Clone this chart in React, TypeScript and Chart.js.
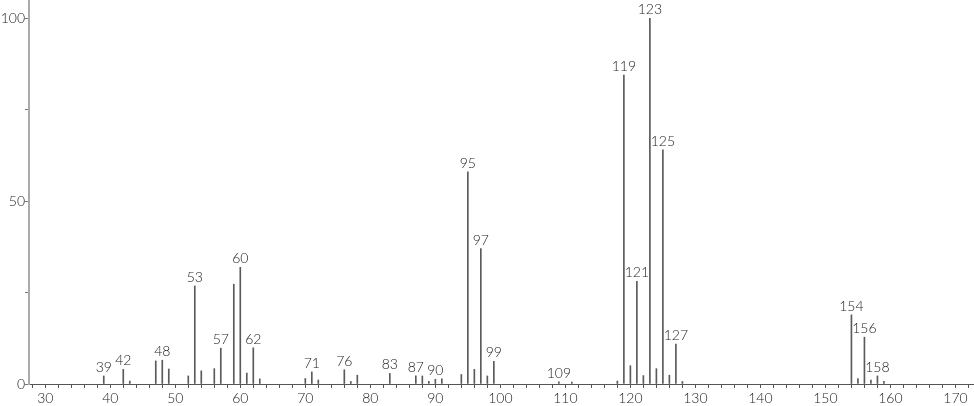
import React, { useEffect, useRef } from "react";
import { Chart, registerables } from "chart.js";

Chart.register(...registerables);

const masses = [39, 42, 43, 47, 48, 49, 52, 53, 54, 56, 57, 59, 60, 61, 62, 63, 70, 71, 72, 76, 77, 78, 83, 87, 88, 89, 90, 91, 94, 95, 96, 97, 98, 99, 109, 111, 118, 119, 120, 121, 122, 123, 124, 125, 126, 127, 128, 154, 155, 156, 157, 158, 159];
const intensities = [2.2, 4.0, 0.8, 6.3, 6.5, 4.1, 2.2, 26.8, 3.6, 4.2, 9.8, 27.3, 31.9, 3.0, 9.9, 1.4, 1.5, 3.3, 1.1, 3.9, 0.7, 2.4, 2.9, 2.2, 2.2, 0.7, 1.3, 1.4, 2.6, 58.0, 4.0, 37.0, 2.2, 6.2, 0.6, 0.5, 0.8, 84.5, 5.0, 28.1, 2.3, 100, 4.2, 64.0, 2.4, 10.9, 0.7, 18.9, 1.5, 12.8, 1.1, 2.2, 0.7];
const labeledPeaks = [39, 42, 48, 53, 57, 60, 62, 71, 76, 83, 87, 90, 95, 97, 99, 109, 119, 121, 123, 125, 127, 154, 156, 158];
const xLabelTicks = [30, 40, 50, 60, 70, 80, 90, 100, 110, 120, 130, 140, 150, 160, 170];
const yLabelTicks = [0, 50, 100];

const FONT = "Lato, 'DejaVu Sans', sans-serif";

const peakLabelPlugin = {
  id: "peakLabels",
  afterDatasetsDraw(chart: any) {
    const meta = chart.getDatasetMeta(0);
    const ctx = chart.ctx;
    ctx.save();
    ctx.font = `300 14px ${FONT}`;
    ctx.fillStyle = "#222";
    ctx.textAlign = "center";
    ctx.textBaseline = "alphabetic";
    masses.forEach((m, i) => {
      if (!labeledPeaks.includes(m)) return;
      const el = meta.data[i];
      if (!el) return;
      ctx.fillText(String(m), el.x, el.y - 4);
    });
    ctx.restore();
  },
};

export default function App() {
  const ref = useRef<HTMLCanvasElement>(null);
  useEffect(() => {
    document.body.style.margin = "0";
    const data = masses.map((m, i) => ({ x: m, y: intensities[i] }));
    const chart = new Chart(ref.current!, {
      type: "bar",
      data: {
        datasets: [
          {
            data,
            backgroundColor: "#5a5a5a",
            borderWidth: 0,
            barThickness: 1,
            grouped: false,
          } as any,
        ],
      },
      options: {
        animation: false,
        responsive: true,
        maintainAspectRatio: false,
        layout: { padding: { left: 0, right: 1, top: 0, bottom: 0 } },
        plugins: { legend: { display: false }, tooltip: { enabled: false } },
        scales: {
          x: {
            type: "linear",
            min: 27.5,
            max: 172.7,
            offset: false,
            afterFit(scale: any) {
              scale.height = 22;
              scale.paddingLeft = 0;
              scale.paddingRight = 0;
            },
            border: { display: true, color: "#555", width: 1 },
            grid: {
              display: true,
              drawOnChartArea: false,
              drawTicks: true,
              tickLength: 4,
              tickColor: "#555",
              offset: false,
            },
            ticks: {
              stepSize: 2,
              includeBounds: false,
              autoSkip: false,
              maxRotation: 0,
              minRotation: 0,
              padding: 2,
              maxTicksLimit: 200,
              color: "#222",
              font: { family: FONT, size: 14, weight: "300" as any },
              callback: (v: any) => (xLabelTicks.includes(Number(v)) ? String(v) : ""),
            },
          },
          y: {
            type: "linear",
            min: 0,
            max: 105,
            afterFit(scale: any) {
              scale.width = 29;
              scale.paddingTop = 0;
              scale.paddingBottom = 0;
            },
            border: { display: true, color: "#aaa", width: 2 },
            grid: {
              display: true,
              drawOnChartArea: false,
              drawTicks: true,
              tickLength: 4,
              tickColor: "#777",
            },
            ticks: {
              stepSize: 25,
              includeBounds: false,
              autoSkip: false,
              padding: 0,
              color: "#222",
              font: { family: FONT, size: 14, weight: "300" as any },
              callback: (v: any) => (yLabelTicks.includes(Number(v)) ? String(v) : ""),
            },
          },
        },
      },
      plugins: [peakLabelPlugin],
    });
    return () => chart.destroy();
  }, []);
  return (
    <div style={{ width: 974, height: 406, position: "relative" }}>
      <canvas ref={ref} />
    </div>
  );
}
